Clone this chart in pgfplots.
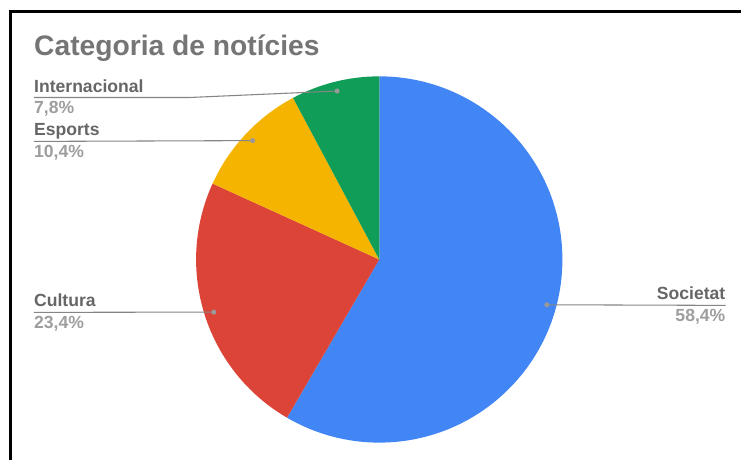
\documentclass[border=0pt]{standalone}
\usepackage{pgfplots}
\pgfplotsset{compat=1.18}
\usepackage{pgfplotstable}
\usepackage{fontspec}
\setmainfont{Liberation Sans}
\definecolor{cSoc}{HTML}{4285F4}
\definecolor{cCul}{HTML}{DB4437}
\definecolor{cEsp}{HTML}{F4B400}
\definecolor{cInt}{HTML}{0F9D58}
\definecolor{titlegray}{HTML}{757575}
\definecolor{namegray}{HTML}{666666}
\definecolor{pctgray}{HTML}{9E9E9E}
\definecolor{leadgray}{HTML}{858585}
\definecolor{dotgray}{HTML}{999999}

\pgfplotstableread{
name value color
Societat 58.4 cSoc
Cultura 23.4 cCul
Esports 10.4 cEsp
Internacional 7.8 cInt
}\piedata

\begin{document}
\begin{tikzpicture}
\begin{axis}[hide axis, scale only axis, width=556.5pt, height=345.75pt,
  xmin=0, xmax=742, ymin=0, ymax=461, clip=false]
\pgfplotsextra{
 \fill[white] (axis cs:0,0) rectangle (axis cs:742,461);
 \xdef\startang{90}
 \foreach \i in {0,...,3}{
   \pgfplotstablegetelem{\i}{value}\of\piedata \let\val\pgfplotsretval
   \pgfplotstablegetelem{\i}{color}\of\piedata \let\col\pgfplotsretval
   \pgfmathsetmacro\endang{\startang-3.6*\val}
   \pgfmathsetmacro\midang{(\startang+\endang)/2}
   \fill[color=\col] (axis cs:380,201) -- (axis cs:{380+183.5*cos(\startang)},{201+183.5*sin(\startang)})
      arc[start angle=\startang, end angle=\endang, radius=137.625pt] -- cycle;
   \coordinate (dot\i) at (axis cs:{380+174*cos(\midang)},{201+174*sin(\midang)});
   \xdef\startang{\endang}
 }
 % leader lines
 \draw[leadgray, line width=0.8pt] (axis cs:34,363.3) -- (axis cs:190,363.3) -- (dot3);
 \draw[leadgray, line width=0.8pt] (axis cs:34,319.3) -- (dot2);
 \draw[leadgray, line width=0.8pt] (axis cs:34,148) -- (dot1);
 \draw[leadgray, line width=0.8pt] (dot0) -- (axis cs:727,155);
 \foreach \i in {0,...,3}{ \fill[dotgray] (dot\i) circle[radius=1.9pt]; }
 % title
 \node[anchor=base west, inner sep=0pt, text=titlegray, font=\fontsize{21.2pt}{25pt}\selectfont\bfseries] at (axis cs:34,405) {Categoria de notícies};
 % labels
 \node[anchor=base west, inner sep=0pt, text=namegray, font=\fontsize{13.2pt}{15pt}\selectfont\bfseries] at (axis cs:34,368.8) {Internacional};
 \node[anchor=base west, inner sep=0pt, text=pctgray, font=\fontsize{13.2pt}{15pt}\selectfont\bfseries] at (axis cs:34,347.3) {7,8\%};
 \node[anchor=base west, inner sep=0pt, text=namegray, font=\fontsize{13.2pt}{15pt}\selectfont\bfseries] at (axis cs:34,324.8) {Esports};
 \node[anchor=base west, inner sep=0pt, text=pctgray, font=\fontsize{13.2pt}{15pt}\selectfont\bfseries] at (axis cs:34,303.3) {10,4\%};
 \node[anchor=base west, inner sep=0pt, text=namegray, font=\fontsize{13.2pt}{15pt}\selectfont\bfseries] at (axis cs:34,153.5) {Cultura};
 \node[anchor=base west, inner sep=0pt, text=pctgray, font=\fontsize{13.2pt}{15pt}\selectfont\bfseries] at (axis cs:34,132) {23,4\%};
 \node[anchor=base east, inner sep=0pt, text=namegray, font=\fontsize{13.2pt}{15pt}\selectfont\bfseries] at (axis cs:727,160.5) {Societat};
 \node[anchor=base east, inner sep=0pt, text=pctgray, font=\fontsize{13.2pt}{15pt}\selectfont\bfseries] at (axis cs:727,139) {58,4\%};
 % frame
 \draw[black, line width=2.2pt] (axis cs:10.2,0) -- (axis cs:10.2,449.8) -- (axis cs:742,449.8);
}
\end{axis}
\end{tikzpicture}
\end{document}
